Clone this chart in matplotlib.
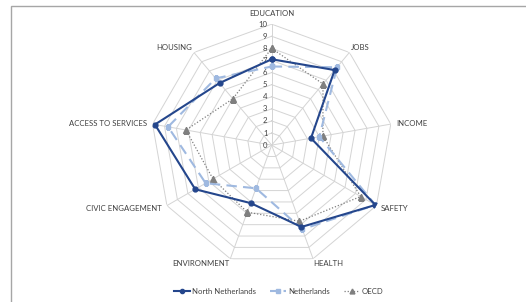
import numpy as np
import matplotlib
matplotlib.use("Agg")
import matplotlib.pyplot as plt
from matplotlib.lines import Line2D

plt.rcParams['font.family'] = ['Lato', 'DejaVu Sans']

categories = ['EDUCATION', 'JOBS', 'INCOME', 'SAFETY', 'HEALTH', 'ENVIRONMENT',
              'CIVIC ENGAGEMENT', 'ACCESS TO SERVICES', 'HOUSING']
north_nl = [7.1, 8.1, 3.3, 9.9, 7.2, 5.1, 7.3, 9.8, 6.7]
netherlands = [6.5, 8.4, 4.0, 9.9, 7.4, 3.8, 6.3, 8.7, 7.2]
oecd = [8.0, 6.6, 4.3, 8.5, 6.7, 5.9, 5.6, 7.2, 5.0]
levels = list(range(0, 11))

n = len(categories)
angles = np.linspace(0, 2 * np.pi, n, endpoint=False)
closed = np.append(angles, angles[0])

def close(vals):
    return np.append(vals, vals[0])

fig = plt.figure(figsize=(5.26, 3.02), dpi=100)

# light frame round the chart area (left and top edges visible)
fig.add_artist(plt.Rectangle((11 / 526, -0.05), 1.2, (302 - 6) / 302 + 0.05,
                             transform=fig.transFigure, fill=False,
                             edgecolor='#a6a6a6', linewidth=1.0))

ax = fig.add_axes([0.2865, 0.119, 0.460, 0.801], projection='polar')
ax.set_theta_zero_location('N')
ax.set_theta_direction(-1)
ax.set_ylim(0, 10)
ax.grid(False)
ax.spines['polar'].set_visible(False)
ax.set_xticks([])
ax.set_yticks([])

grid_c = '#d4d4d4'
for lv in levels[1:]:
    ax.plot(closed, [lv] * (n + 1), color=grid_c, lw=0.7, zorder=1)
for a in angles:
    ax.plot([a, a], [0, 10], color=grid_c, lw=0.7, zorder=1)

txt_c = '#404040'
fs = 5.6
for lv in levels:
    ax.annotate(str(lv), xy=(0, lv), xytext=(-3, 0), textcoords='offset points',
                ha='right', va='center', fontsize=fs, color=txt_c)

for a, lab in zip(angles, categories):
    s, c = np.sin(a), np.cos(a)
    if s > 0.1:
        ha = 'left'
    elif s < -0.1:
        ha = 'right'
    else:
        ha = 'center'
    r = 10.45
    va = 'center'
    if abs(s) < 0.1:
        va = 'bottom'
        r = 10.6
    elif c < -0.8:
        va = 'top'
        r = 10.1
    elif c > 0.6:
        va = 'bottom'
        r = 10.2
    ax.text(a, r, lab, ha=ha, va=va, fontsize=fs, color=txt_c)

nn_c = '#24468c'
nl_c = '#9fb9e0'
oe_c = '#7f7f7f'

ax.plot(closed, close(oecd), color=oe_c, lw=0.9, ls=(0, (1, 1.5)),
        marker='^', ms=4, mfc=oe_c, mec=oe_c, zorder=3)
ax.plot(closed, close(netherlands), color=nl_c, lw=1.5, ls=(0, (5, 3)),
        marker='s', ms=3.5, mfc=nl_c, mec=nl_c, zorder=4)
ax.plot(closed, close(north_nl), color=nn_c, lw=1.5,
        marker='o', ms=3.5, mfc=nn_c, mec=nn_c, zorder=5)

handles = [
    Line2D([], [], color=nn_c, lw=1.5, marker='o', ms=3, label='North Netherlands'),
    Line2D([], [], color=nl_c, lw=1.5, ls=(0, (4, 2.5)), marker='s', ms=3, label='Netherlands'),
    Line2D([], [], color=oe_c, lw=0.9, ls=(0, (1, 1.5)), marker='^', ms=3.5, label='OECD'),
]
fig.legend(handles=handles, loc='center', bbox_to_anchor=(0.53, 0.035), ncol=3,
           frameon=False, fontsize=fs, handlelength=2.0, columnspacing=1.8,
           handletextpad=0.3, labelcolor=txt_c)

fig.savefig('out.png', dpi=100)
